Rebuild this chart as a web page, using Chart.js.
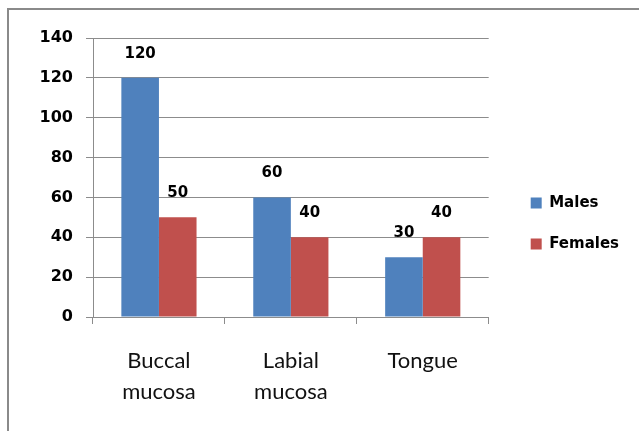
<!DOCTYPE html>
<html lang="en">
<head>
    <meta charset="UTF-8">
    <title>Lesion sites by sex</title>
    <script src="https://cdn.jsdelivr.net/npm/chart.js"></script>
    <style>
        html, body { margin: 0; padding: 0; background: #fff; overflow: hidden; }
        #wrap { position: relative; width: 639px; height: 431px; }
    </style>
</head>
<body>
    <div id="wrap">
        <canvas id="grafico"></canvas>
    </div>

    <script>
        // data
        const categorias = [['Buccal', 'mucosa'], ['Labial', 'mucosa'], 'Tongue'];
        const machos = [120, 60, 30];
        const femeas = [50, 40, 40];
        const nomesSeries = ['Males', 'Females'];

        const azul = '#4F81BD';
        const vermelho = '#C0504D';
        const cinza = '#8C8C8C';

        // moldura cinza em volta do grafico
        const moldura = {
            id: 'moldura',
            beforeDraw(chart) {
                const ctx = chart.ctx;
                ctx.save();
                ctx.strokeStyle = '#8a8a8a';
                ctx.lineWidth = 2;
                ctx.strokeRect(8, 9, 700, 500);
                ctx.restore();
            }
        };

        // empurra a legenda um pouco pra direita (longe do grafico)
        const legendaDireita = {
            id: 'legendaDireita',
            afterLayout(chart) {
                chart.legend.left += 16;
                chart.legend.right += 16;
            }
        };

        // valores em cima das barras
        const rotulos = {
            id: 'rotulos',
            afterDatasetsDraw(chart) {
                const ctx = chart.ctx;
                ctx.save();
                ctx.font = 'bold 15px "DejaVu Sans"';
                ctx.fillStyle = '#000';
                ctx.textAlign = 'center';
                ctx.textBaseline = 'middle';
                chart.data.datasets.forEach((ds, i) => {
                    chart.getDatasetMeta(i).data.forEach((bar, j) => {
                        ctx.fillText(String(ds.data[j]), bar.x, bar.y - 24);
                    });
                });
                ctx.restore();
            }
        };

        new Chart(document.getElementById('grafico'), {
            type: 'bar',
            data: {
                labels: categorias,
                datasets: [
                    { label: nomesSeries[0], data: machos, backgroundColor: azul },
                    { label: nomesSeries[1], data: femeas, backgroundColor: vermelho }
                ]
            },
            options: {
                responsive: true,
                maintainAspectRatio: false,
                animation: false,
                devicePixelRatio: 1,
                datasets: {
                    bar: { barPercentage: 1, categoryPercentage: 0.57 }
                },
                layout: { padding: { top: 38, left: 20, right: 26, bottom: 22 } },
                scales: {
                    y: {
                        min: 0,
                        max: 140,
                        ticks: {
                            stepSize: 20,
                            color: '#000',
                            padding: 13,
                            font: { family: 'DejaVu Sans', size: 16, weight: 'bold' }
                        },
                        grid: { color: cinza, tickLength: 7 },
                        border: { color: cinza },
                        afterFit(scale) { scale.width = 73; }
                    },
                    x: {
                        ticks: {
                            color: '#111',
                            padding: 22,
                            font: { family: 'Lato', size: 22, lineHeight: 1.4 }
                        },
                        grid: { color: cinza, drawOnChartArea: false, tickLength: 7 },
                        border: { color: cinza },
                        afterFit(scale) { scale.height = 92; }
                    }
                },
                plugins: {
                    legend: {
                        position: 'right',
                        labels: {
                            boxWidth: 11,
                            boxHeight: 11,
                            padding: 26,
                            color: '#000',
                            font: { family: 'DejaVu Sans', size: 15, weight: 'bold' }
                        }
                    },
                    tooltip: { enabled: false }
                }
            },
            plugins: [moldura, legendaDireita, rotulos]
        });
    </script>
</body>
</html>
